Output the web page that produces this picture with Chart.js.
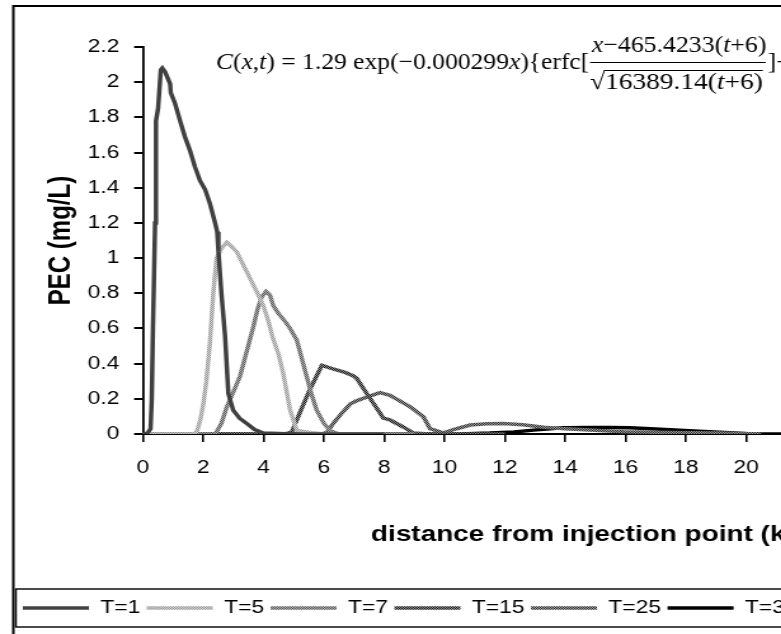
<!DOCTYPE html>
<html>
<head>
<meta charset="utf-8">
<script src="https://cdn.jsdelivr.net/npm/chart.js@4.4.0/dist/chart.umd.min.js"></script>
<style>
  html, body { margin: 0; padding: 0; width: 781px; height: 634px; overflow: hidden; background: #fff; }
  /* the source figure is an Excel chart stretched sideways, so stretch the canvas the same way */
  #wrap { position: absolute; left: 0; top: 0; width: 880px; height: 634px; transform: scaleX(1.27); transform-origin: 0 0; }
</style>
</head>
<body>
<div id="wrap"><canvas id="chart"></canvas></div>
<script>
const SERIES = ['T=1', 'T=5', 'T=7', 'T=15', 'T=25', 'T=30'];

// distance (km) / PEC (mg/L) pairs
const t1X = [0, 0.15, 0.25, 0.29, 0.33, 0.36, 0.4, 0.43, 0.5, 0.59, 0.64, 0.73, 0.9, 0.92, 1.06, 1.23, 1.39, 1.56, 1.72, 1.89, 2.06, 2.22, 2.39, 2.46, 2.5, 2.6, 2.72, 2.83, 2.99, 3.2, 3.44, 3.7, 3.99, 5, 8];
const t1Y = [0, 0.005, 0.03, 0.2, 0.6, 0.85, 1.2, 1.78, 1.85, 2.07, 2.08, 2.06, 1.99, 1.94, 1.88, 1.78, 1.69, 1.61, 1.52, 1.44, 1.39, 1.31, 1.2, 1.15, 1.04, 0.8, 0.56, 0.23, 0.136, 0.09, 0.06, 0.025, 0.005, 0, 0];

const t5X = [0, 1.7, 1.8, 1.9, 2.0, 2.1, 2.22, 2.33, 2.44, 2.6, 2.78, 2.94, 3.11, 3.33, 3.55, 3.77, 3.99, 4.16, 4.3, 4.5, 4.65, 4.88, 5.1, 5.5, 6.0, 8];
const t5Y = [0, 0, 0.02, 0.08, 0.17, 0.3, 0.52, 0.8, 1.0, 1.055, 1.09, 1.065, 1.035, 0.96, 0.885, 0.81, 0.73, 0.64, 0.55, 0.45, 0.345, 0.136, 0.02, 0.01, 0, 0];

const t7X = [0, 2.4, 2.6, 2.78, 3.0, 3.22, 3.44, 3.66, 3.8, 3.94, 4.08, 4.21, 4.32, 4.49, 4.71, 4.88, 5.1, 5.25, 5.43, 5.6, 5.76, 6.0, 6.2, 6.5, 9];
const t7Y = [0, 0, 0.06, 0.155, 0.24, 0.33, 0.47, 0.61, 0.71, 0.78, 0.81, 0.79, 0.73, 0.686, 0.64, 0.6, 0.534, 0.44, 0.326, 0.22, 0.136, 0.06, 0.02, 0, 0];

const t15X = [0, 4.7, 4.93, 5.2, 5.5, 5.93, 6.3, 6.7, 6.98, 7.09, 7.42, 7.7, 7.97, 8.19, 8.63, 8.97, 9.5, 12];
const t15Y = [0, 0, 0.01, 0.12, 0.24, 0.39, 0.37, 0.35, 0.33, 0.316, 0.23, 0.16, 0.09, 0.08, 0.04, 0.005, 0, 0];

const t25X = [0, 5.9, 6.09, 6.31, 6.6, 6.87, 7.1, 7.42, 7.86, 8.19, 8.5, 8.86, 9.3, 9.52, 9.96, 10.4, 10.85, 11.4, 11.95, 12.6, 13.28, 14.0, 14.83, 15.93, 17.5, 19.2, 20.5];
const t25Y = [0, 0, 0.007, 0.06, 0.12, 0.17, 0.19, 0.21, 0.235, 0.22, 0.19, 0.155, 0.098, 0.03, 0.007, 0.03, 0.051, 0.058, 0.06, 0.052, 0.038, 0.03, 0.023, 0.013, 0.008, 0.005, 0];

const t30X = [0, 10.5, 11.5, 12.3, 12.95, 13.5, 13.94, 14.8, 15.5, 16.15, 17.0, 17.8, 18.6, 19.47, 20.2, 22];
const t30Y = [0, 0, 0.005, 0.012, 0.022, 0.03, 0.035, 0.037, 0.037, 0.035, 0.029, 0.022, 0.014, 0.007, 0, 0];

const X_MIN = 0, X_MAX = 30, X_STEP = 2;
const Y_MIN = 0, Y_MAX = 2.2, Y_STEP = 0.2;

const FONT = "'Liberation Sans', Arial, sans-serif";
const SERIF = "'Liberation Serif', 'Times New Roman', serif";
Chart.defaults.font.family = FONT;
Chart.defaults.color = '#000';

const pts = (xs, ys) => xs.map((x, i) => ({ x, y: ys[i] }));

// Excel's textured line fills, as a tiny checker pattern
const hatch = (dark, light) => {
  const c = document.createElement('canvas');
  c.width = 2; c.height = 2;
  const g = c.getContext('2d');
  g.fillStyle = light; g.fillRect(0, 0, 2, 2);
  g.fillStyle = dark; g.fillRect(0, 0, 1, 1); g.fillRect(1, 1, 1, 1);
  return g.createPattern(c, 'repeat');
};

const series = (label, xs, ys, color) => ({
  label,
  data: pts(xs, ys),
  borderColor: color,
  backgroundColor: color,
  borderWidth: 3.5,
  pointRadius: 0,
  tension: 0,
  fill: false,
});

// outer chart frame + the boxed legend
const framePlugin = {
  id: 'frame',
  afterDraw(chart) {
    const { ctx } = chart;
    ctx.save();
    ctx.strokeStyle = '#000';
    ctx.lineWidth = 2;
    ctx.strokeRect(10.5, 6, chart.width, chart.height + 20);
    const boxes = chart.legend.legendHitBoxes;
    const last = boxes[boxes.length - 1];
    ctx.lineWidth = 1.5;
    ctx.strokeStyle = '#111';
    ctx.strokeRect(12.5, 589, last.left + last.width + 12, 38);
    ctx.restore();
  },
};

// the fitted solution printed in the plot (MathType style, Times)
const equationPlugin = {
  id: 'equation',
  afterDraw(chart) {
    const { ctx } = chart;
    const size = 23;
    const setFont = (it) => { ctx.font = (it ? 'italic ' : '') + size + 'px ' + SERIF; };
    const widthOf = (parts) => parts.reduce((w, [t, it]) => { setFont(it); return w + ctx.measureText(t).width; }, 0);
    const run = (parts, x, y) => {
      parts.forEach(([t, it]) => { setFont(it); ctx.fillText(t, x, y); x += ctx.measureText(t).width; });
      return x;
    };
    // squeeze a run into [x0, x0 + w] (canvas units)
    const fit = (parts, x0, w, y) => {
      const nat = widthOf(parts);
      ctx.save();
      ctx.translate(x0, 0);
      ctx.scale(w / nat, 1);
      run(parts, 0, y);
      ctx.restore();
    };
    const main = [['C', 1], ['(', 0], ['x', 1], [',', 0], ['t', 1], [')', 0], [' = ', 0], ['1.29', 0],
      [' exp(\u22120.000299', 0], ['x', 1], ['){erfc[', 0]];
    const num = [['x', 1], ['\u2212465.4233(', 0], ['t', 1], ['+6)', 0]];
    const den = [['\u221a16389.14(', 0], ['t', 1], ['+6)', 0]];

    ctx.save();
    ctx.fillStyle = '#000';
    ctx.strokeStyle = '#000';
    ctx.textBaseline = 'alphabetic';
    fit(main, 170, 294, 69);          // 216 .. 590 on screen
    fit(num, 466, 137.5, 52);         // 592 .. 767
    fit(den, 464.6, 136, 89);         // 590 .. 763
    setFont(0);
    const radW = ctx.measureText('\u221a').width * 136 / widthOf(den);
    ctx.lineWidth = 1.2;
    ctx.beginPath(); ctx.moveTo(464.6, 62.5); ctx.lineTo(603, 62.5); ctx.stroke();
    ctx.beginPath(); ctx.moveTo(464.6 + radW - 1, 70.5); ctx.lineTo(600.6, 70.5); ctx.stroke();
    fit([[']', 0], ['+', 0]], 604.5, 18, 69);
    ctx.restore();
  },
};

new Chart(document.getElementById('chart'), {
  type: 'line',
  data: {
    datasets: [
      series(SERIES[0], t1X, t1Y, '#404040'),
      series(SERIES[1], t5X, t5Y, hatch('#9a9a9a', '#d0d0d0')),
      series(SERIES[2], t7X, t7Y, hatch('#5e5e5e', '#a8a8a8')),
      series(SERIES[3], t15X, t15Y, hatch('#1e1e1e', '#8a8a8a')),
      series(SERIES[4], t25X, t25Y, hatch('#333333', '#9a9a9a')),
      series(SERIES[5], t30X, t30Y, '#000000'),
    ],
  },
  options: {
    responsive: true,
    maintainAspectRatio: false,
    animation: false,
    layout: { padding: { top: 47, left: 13, right: 55.2, bottom: 7 } },
    plugins: {
      tooltip: { enabled: false },
      legend: {
        display: true,
        position: 'bottom',
        align: 'start',
        labels: {
          usePointStyle: true,
          pointStyle: 'line',
          pointStyleWidth: 52,
          padding: 5,
          font: { size: 18 },
          color: '#000',
        },
      },
    },
    scales: {
      x: {
        type: 'linear',
        min: X_MIN,
        max: X_MAX,
        afterFit: (s) => { s.height = 160; },
        ticks: { stepSize: X_STEP, autoSkip: false, maxRotation: 0, padding: 15, font: { size: 18 }, color: '#000' },
        grid: { drawOnChartArea: false, drawTicks: true, tickLength: 8, color: '#000', lineWidth: 1.6 },
        border: { display: true, color: '#000', width: 2 },
        title: {
          display: true,
          text: 'distance from injection point (km)',
          font: { size: 22, weight: 'bold' },
          color: '#000',
          padding: { top: 0, bottom: 45.8 },
        },
      },
      y: {
        min: Y_MIN,
        max: Y_MAX,
        afterFit: (s) => { s.width = 99.6; },
        ticks: {
          stepSize: Y_STEP,
          padding: 11.6,
          font: { size: 18 },
          color: '#000',
          callback: (v) => String(Number(v.toFixed(1))),
        },
        grid: { drawOnChartArea: false, drawTicks: true, tickLength: 7, color: '#000', lineWidth: 2 },
        border: { display: true, color: '#000', width: 1.8 },
        title: {
          display: true,
          text: 'PEC (mg/L)',
          font: { size: 24, weight: 'bold' },
          color: '#000',
          padding: { top: 20.6, bottom: 0 },
        },
      },
    },
  },
  plugins: [framePlugin, equationPlugin],
});
</script>
</body>
</html>
